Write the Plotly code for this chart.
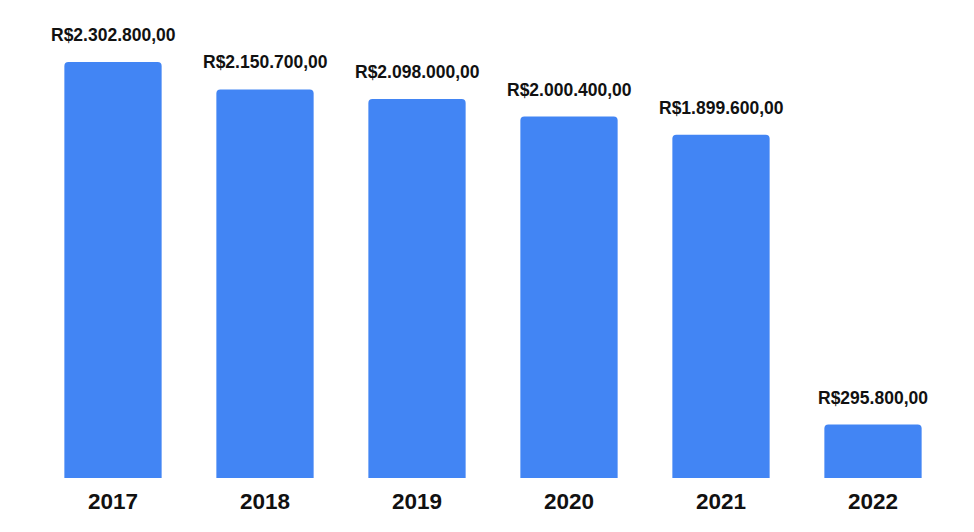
import plotly.graph_objects as go

years = ["2017", "2018", "2019", "2020", "2021", "2022"]
values = [2302800, 2150700, 2098000, 2000400, 1899600, 295800]
labels = ["R$2.302.800,00", "R$2.150.700,00", "R$2.098.000,00",
          "R$2.000.400,00", "R$1.899.600,00", "R$295.800,00"]

pos = list(range(len(years)))

fig = go.Figure(go.Bar(
    x=pos, y=values,
    marker=dict(color="#4285F4", cornerradius=4, line=dict(width=0)),
    hoverinfo="skip",
))

for p, v, t in zip(pos, values, labels):
    fig.add_annotation(x=p, y=v, text="<b>%s</b>" % t, showarrow=False,
                       yanchor="bottom", yshift=15,
                       font=dict(family="Liberation Sans, Arial, sans-serif", size=17.5, color="#111111"))

fig.update_layout(
    width=974, height=532,
    margin=dict(l=29, r=33, t=12, b=62),
    paper_bgcolor="white", plot_bgcolor="white",
    bargap=0.36,
    showlegend=False,
    xaxis=dict(range=[-0.5, 5.5], showgrid=False, zeroline=False, showline=False,
               ticks="outside", ticklen=3, tickcolor="rgba(0,0,0,0)",
               tickfont=dict(family="Liberation Sans, Arial, sans-serif", size=22.5, color="#111111"),
               tickvals=pos, ticktext=["<b>%s</b>" % y for y in years]),
    yaxis=dict(range=[0, 2535000], visible=False),
)

fig.write_html("out.html")
